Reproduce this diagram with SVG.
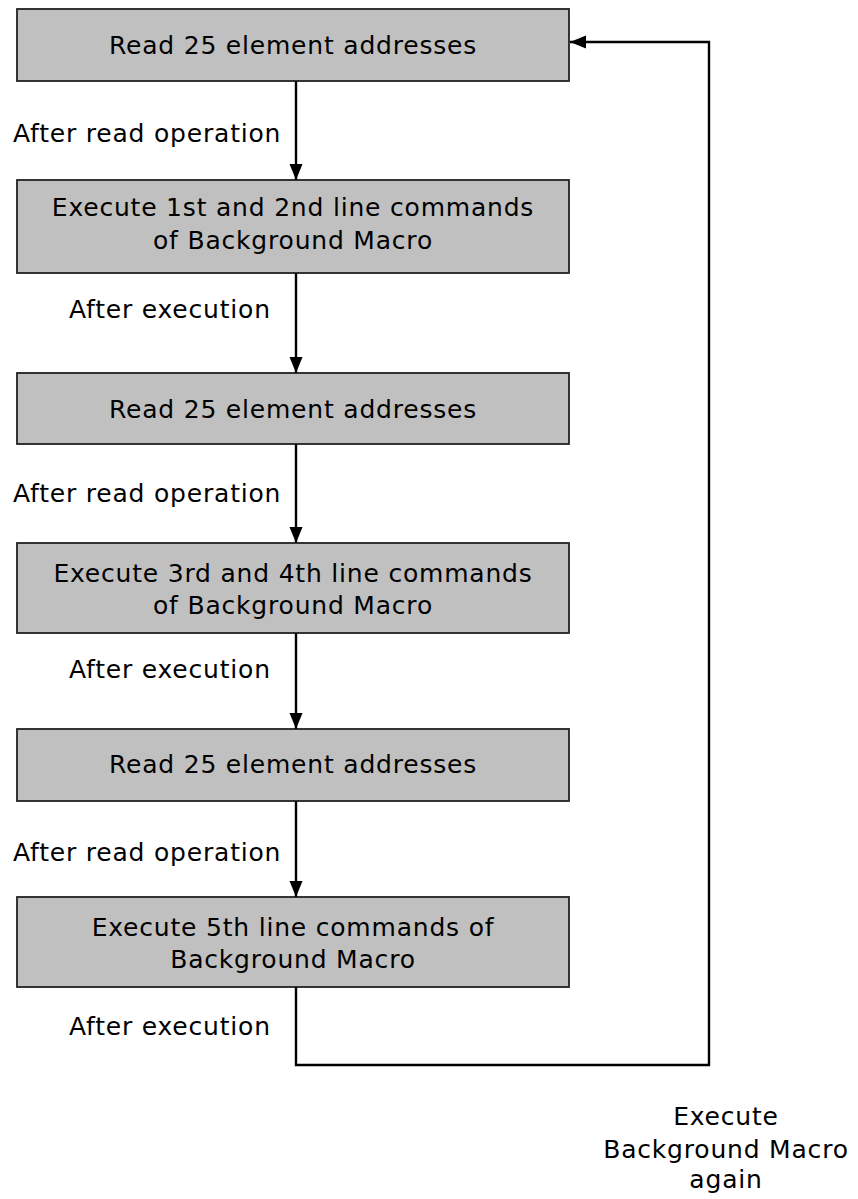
<svg xmlns="http://www.w3.org/2000/svg" width="858" height="1199" viewBox="0 0 858 1199">
<style>
.box{fill:#c0c0c0;stroke:#222;stroke-width:1.8}
.t{font-family:"DejaVu Sans",sans-serif;font-size:25px;letter-spacing:0.8px;fill:#000}
.c{text-anchor:middle}
.ln{fill:none;stroke:#000;stroke-width:2.4}
</style>
<defs>
<marker id="ah" markerUnits="userSpaceOnUse" markerWidth="18" markerHeight="14" refX="16" refY="7" orient="auto">
<path d="M0,0.5 L16,7 L0,13.5 Z" fill="#000"/>
</marker>
</defs>
<rect width="858" height="1199" fill="#fff"/>
<g id="n1"><rect class="box" x="17" y="9" width="552" height="72"/><text class="t c" x="293" y="54">Read 25 element addresses</text></g>
<g id="n2"><rect class="box" x="17" y="180" width="552" height="93"/><text class="t c" x="293" y="216">Execute 1st and 2nd line commands</text><text class="t c" x="293" y="249">of Background Macro</text></g>
<g id="n3"><rect class="box" x="17" y="373" width="552" height="71"/><text class="t c" x="293" y="418">Read 25 element addresses</text></g>
<g id="n4"><rect class="box" x="17" y="543" width="552" height="90"/><text class="t c" x="293" y="582">Execute 3rd and 4th line commands</text><text class="t c" x="293" y="614">of Background Macro</text></g>
<g id="n5"><rect class="box" x="17" y="729" width="552" height="72"/><text class="t c" x="293" y="773">Read 25 element addresses</text></g>
<g id="n6"><rect class="box" x="17" y="897" width="552" height="90"/><text class="t c" x="293" y="936">Execute 5th line commands of</text><text class="t c" x="293" y="968">Background Macro</text></g>
<g id="connectors">
<path class="ln" d="M296,81 V180" marker-end="url(#ah)"/>
<path class="ln" d="M296,273 V373" marker-end="url(#ah)"/>
<path class="ln" d="M296,444 V543" marker-end="url(#ah)"/>
<path class="ln" d="M296,633 V729" marker-end="url(#ah)"/>
<path class="ln" d="M296,801 V897" marker-end="url(#ah)"/>
<path class="ln" d="M296,987 V1065 H709 V42 H570" marker-end="url(#ah)"/>
</g>
<g id="labels">
<text class="t" x="13" y="142">After read operation</text>
<text class="t" x="69" y="318">After execution</text>
<text class="t" x="13" y="502">After read operation</text>
<text class="t" x="69" y="678">After execution</text>
<text class="t" x="13" y="861">After read operation</text>
<text class="t" x="69" y="1035">After execution</text>
<text class="t c" x="726" y="1125">Execute</text>
<text class="t c" x="726" y="1158">Background Macro</text>
<text class="t c" x="726" y="1188">again</text>
</g>
</svg>
